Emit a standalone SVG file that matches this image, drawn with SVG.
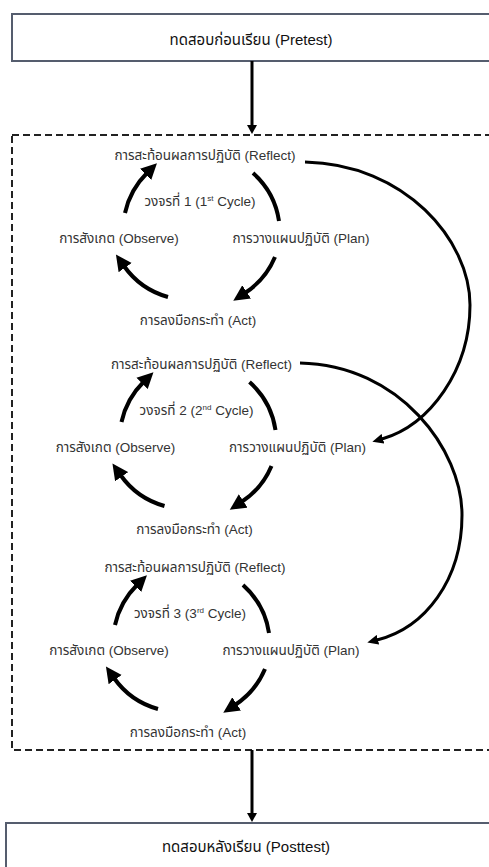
<svg xmlns="http://www.w3.org/2000/svg" width="489" height="867" viewBox="0 0 489 867">
<defs>
<style>
.t{font-family:"Liberation Sans","Noto Sans Thai","Noto Sans","DejaVu Sans",sans-serif;font-size:13.5px;fill:#333;text-anchor:middle}
.title{font-family:"Liberation Sans","Noto Sans Thai","Noto Sans","DejaVu Sans",sans-serif;font-size:15px;fill:#111;text-anchor:middle}
.sup{font-size:8px}
.box{fill:#fff;stroke:#555d6e;stroke-width:2}
.dash{fill:none;stroke:#222;stroke-width:2;stroke-dasharray:7 4}
.arc{fill:none;stroke:#000;stroke-width:4}
.long{fill:none;stroke:#000;stroke-width:3}
.main{fill:none;stroke:#000;stroke-width:3}
</style>
<marker id="big" markerUnits="userSpaceOnUse" markerWidth="17" markerHeight="17" refX="2" refY="8" orient="auto" viewBox="0 0 17 16">
<path d="M0,0 L16,8 L0,16 z" fill="#000"/>
</marker>
<marker id="med" markerUnits="userSpaceOnUse" markerWidth="12" markerHeight="10" refX="1" refY="5" orient="auto" viewBox="0 0 12 10">
<path d="M0,0 L11,5 L0,10 z" fill="#000"/>
</marker>
<marker id="small" markerUnits="userSpaceOnUse" markerWidth="10" markerHeight="10" refX="1" refY="5" orient="auto" viewBox="0 0 10 10">
<path d="M0,0 L9,5 L0,10 z" fill="#000"/>
</marker>
</defs>
<rect width="489" height="867" fill="#fff"/>

<g id="loop-frame"><rect class="dash" x="12" y="135" width="500" height="615"/></g>

<g id="pretest"><rect class="box" x="12" y="14" width="500" height="47"/><text class="title" x="251" y="45">ทดสอบก่อนเรียน (Pretest)</text></g>
<g id="posttest"><rect class="box" x="6" y="823" width="500" height="60"/><text class="title" x="246" y="852">ทดสอบหลังเรียน (Posttest)</text></g>

<g id="connectors">
<path class="main" d="M252,61 L252,126" marker-end="url(#small)"/>
<path class="main" d="M252,750 L252,814" marker-end="url(#small)"/>
<path class="long" d="M305,162 C405,164 470,240 470,305 C470,370 430,425 382,439" marker-end="url(#med)"/>
<path class="long" d="M300,363 C400,365 462,450 462,515 C462,580 425,628 377,640" marker-end="url(#med)"/>
<g id="arcs1">
<path class="arc" d="M125,213 A80,80 0 0 1 147,173" marker-end="url(#big)"/>
<path class="arc" d="M253,173 A80,80 0 0 1 279,221"/>
<path class="arc" d="M275,257 A80,80 0 0 1 245,293" marker-end="url(#big)"/>
<path class="arc" d="M168,297 A80,80 0 0 1 124,266" marker-end="url(#big)"/>
</g>
<g id="arcs2" transform="translate(-3.5,209)">
<path class="arc" d="M125,213 A80,80 0 0 1 147,173" marker-end="url(#big)"/>
<path class="arc" d="M253,173 A80,80 0 0 1 279,221"/>
<path class="arc" d="M275,257 A80,80 0 0 1 245,293" marker-end="url(#big)"/>
<path class="arc" d="M168,297 A80,80 0 0 1 124,266" marker-end="url(#big)"/>
</g>
<g id="arcs3" transform="translate(-10,412)">
<path class="arc" d="M125,213 A80,80 0 0 1 147,173" marker-end="url(#big)"/>
<path class="arc" d="M253,173 A80,80 0 0 1 279,221"/>
<path class="arc" d="M275,257 A80,80 0 0 1 245,293" marker-end="url(#big)"/>
<path class="arc" d="M168,297 A80,80 0 0 1 124,266" marker-end="url(#big)"/>
</g>
</g>

<g id="cycle1">
<g id="c1-reflect"><text class="t" x="205" y="160">การสะท้อนผลการปฏิบัติ (Reflect)</text></g>
<g id="c1-label"><text class="t" x="200" y="206">วงจรที่ 1 (1<tspan class="sup" dy="-5">st</tspan><tspan dy="5"> Cycle)</tspan></text></g>
<g id="c1-observe"><text class="t" x="119" y="243">การสังเกต (Observe)</text></g>
<g id="c1-plan"><text class="t" x="301" y="243">การวางแผนปฏิบัติ (Plan)</text></g>
<g id="c1-act"><text class="t" x="198" y="325">การลงมือกระทำ (Act)</text></g>
</g>
<g id="cycle2" transform="translate(-3.5,209)">
<g id="c2-reflect"><text class="t" x="205" y="160">การสะท้อนผลการปฏิบัติ (Reflect)</text></g>
<g id="c2-label"><text class="t" x="200" y="206">วงจรที่ 2 (2<tspan class="sup" dy="-5">nd</tspan><tspan dy="5"> Cycle)</tspan></text></g>
<g id="c2-observe"><text class="t" x="119" y="243">การสังเกต (Observe)</text></g>
<g id="c2-plan"><text class="t" x="301" y="243">การวางแผนปฏิบัติ (Plan)</text></g>
<g id="c2-act"><text class="t" x="198" y="325">การลงมือกระทำ (Act)</text></g>
</g>
<g id="cycle3" transform="translate(-10,412)">
<g id="c3-reflect"><text class="t" x="205" y="160">การสะท้อนผลการปฏิบัติ (Reflect)</text></g>
<g id="c3-label"><text class="t" x="200" y="206">วงจรที่ 3 (3<tspan class="sup" dy="-5">rd</tspan><tspan dy="5"> Cycle)</tspan></text></g>
<g id="c3-observe"><text class="t" x="119" y="243">การสังเกต (Observe)</text></g>
<g id="c3-plan"><text class="t" x="301" y="243">การวางแผนปฏิบัติ (Plan)</text></g>
<g id="c3-act"><text class="t" x="198" y="325">การลงมือกระทำ (Act)</text></g>
</g>
</svg>
